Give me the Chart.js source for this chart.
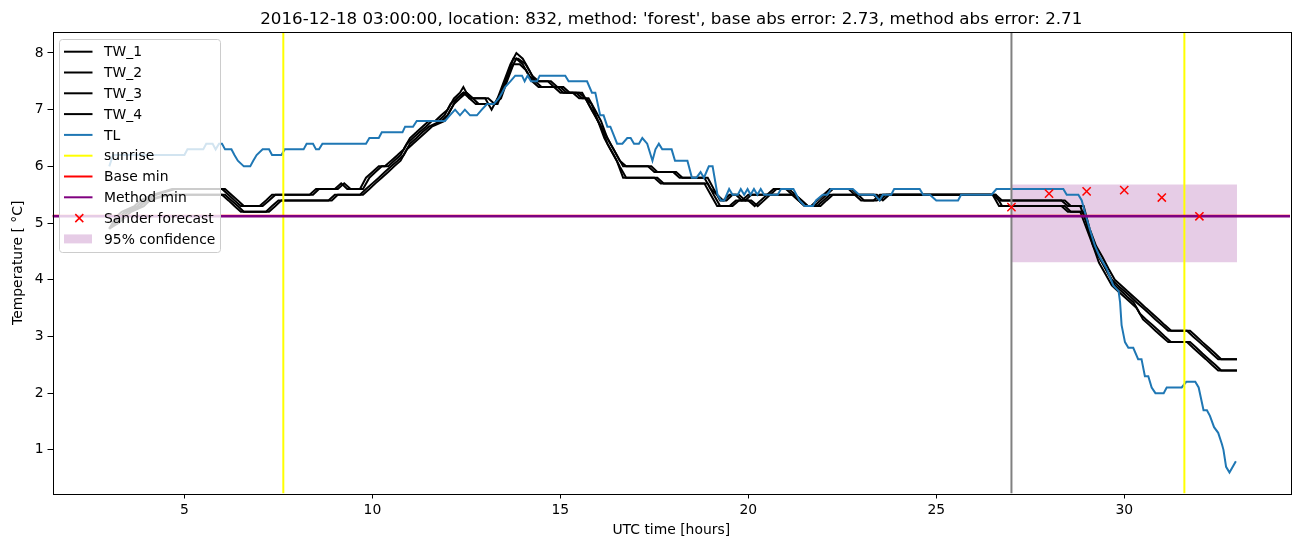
<!DOCTYPE html>
<html>
<head>
<meta charset="utf-8">
<script src="https://cdn.jsdelivr.net/npm/chart.js@4.4.0/dist/chart.umd.min.js"></script>
<style>
  html, body { margin: 0; padding: 0; background: #fff; }
</style>
</head>
<body>
<canvas id="tempChart" width="1302" height="547"></canvas>
<script>
// [hour, temperature] corner points
const tw1 = [[3.0,4.9],[3.17,5.1],[3.33,5.2],[3.67,5.3],[3.83,5.4],[4.17,5.5],[4.67,5.6],[6.0,5.6],[6.17,5.5],[6.33,5.4],[6.5,5.3],[7.0,5.3],[7.17,5.4],[7.33,5.5],[8.33,5.5],[8.5,5.6],[9.0,5.6],[9.17,5.7],[9.33,5.6],[9.67,5.6],[9.83,5.8],[10.0,5.9],[10.17,6.0],[10.33,6.0],[10.5,6.1],[10.67,6.2],[10.83,6.3],[11.0,6.5],[11.17,6.6],[11.33,6.7],[11.5,6.8],[11.67,6.8],[11.83,6.9],[12.0,7.0],[12.17,7.2],[12.33,7.3],[12.42,7.4],[12.5,7.3],[12.67,7.2],[13.0,7.2],[13.17,7.0],[13.33,7.2],[13.5,7.5],[13.67,7.8],[13.83,8.0],[14.0,7.9],[14.17,7.7],[14.33,7.5],[14.67,7.5],[14.83,7.4],[15.0,7.4],[15.17,7.3],[15.33,7.3],[15.5,7.2],[15.67,7.2],[15.83,7.1],[16.0,6.8],[16.17,6.6],[16.33,6.4],[16.5,6.2],[16.67,6.0],[17.33,6.0],[17.5,5.9],[18.0,5.9],[18.17,5.8],[18.83,5.8],[19.0,5.6],[19.17,5.5],[19.33,5.4],[19.5,5.5],[19.67,5.5],[19.83,5.4],[20.0,5.5],[20.5,5.5],[20.67,5.6],[21.0,5.6],[21.17,5.5],[21.33,5.4],[21.5,5.3],[21.67,5.3],[21.83,5.4],[22.0,5.5],[22.17,5.6],[22.67,5.6],[22.83,5.5],[23.33,5.5],[23.5,5.4],[23.67,5.5],[26.5,5.5],[26.67,5.4],[28.33,5.4],[28.5,5.3],[28.83,5.3],[29.0,5.0],[29.17,4.6],[29.33,4.4],[29.5,4.2],[29.67,4.0],[29.83,3.9],[30.0,3.8],[30.17,3.7],[30.33,3.6],[30.5,3.5],[30.67,3.4],[30.83,3.3],[31.0,3.2],[31.17,3.1],[31.67,3.1],[31.83,3.0],[32.0,2.9],[32.17,2.8],[32.33,2.7],[32.5,2.6],[33.0,2.6]];
const tw2 = [[3.0,4.9],[3.25,5.1],[3.42,5.2],[3.75,5.3],[3.92,5.4],[4.25,5.5],[4.75,5.6],[6.08,5.6],[6.25,5.5],[6.42,5.4],[6.58,5.3],[7.08,5.3],[7.25,5.4],[7.42,5.5],[8.42,5.5],[8.58,5.6],[9.08,5.6],[9.25,5.7],[9.42,5.6],[9.75,5.6],[9.92,5.8],[10.08,5.9],[10.25,6.0],[10.42,6.0],[10.58,6.1],[10.75,6.2],[10.92,6.4],[11.08,6.5],[11.25,6.6],[11.42,6.7],[11.58,6.8],[11.75,6.8],[11.92,6.9],[12.08,7.1],[12.25,7.2],[12.42,7.3],[12.5,7.3],[12.58,7.2],[12.75,7.2],[13.08,7.2],[13.25,7.1],[13.42,7.3],[13.58,7.6],[13.75,7.9],[13.88,7.9],[14.08,7.8],[14.25,7.6],[14.42,7.5],[14.75,7.5],[14.92,7.4],[15.08,7.4],[15.25,7.3],[15.42,7.3],[15.58,7.2],[15.75,7.2],[15.92,7.0],[16.08,6.8],[16.25,6.5],[16.42,6.3],[16.58,6.1],[16.75,6.0],[17.42,6.0],[17.58,5.9],[18.08,5.9],[18.25,5.8],[18.92,5.8],[19.08,5.6],[19.25,5.4],[19.42,5.4],[19.58,5.5],[19.75,5.5],[19.92,5.4],[20.08,5.5],[20.58,5.5],[20.75,5.6],[21.08,5.6],[21.25,5.5],[21.42,5.4],[21.58,5.3],[21.75,5.3],[21.92,5.4],[22.08,5.5],[22.25,5.6],[22.75,5.6],[22.92,5.5],[23.42,5.5],[23.58,5.4],[23.75,5.5],[26.58,5.5],[26.75,5.4],[28.42,5.4],[28.58,5.3],[28.92,5.3],[29.08,4.9],[29.25,4.6],[29.42,4.4],[29.58,4.2],[29.75,4.0],[29.92,3.9],[30.08,3.8],[30.25,3.7],[30.42,3.6],[30.58,3.5],[30.75,3.4],[30.92,3.3],[31.08,3.2],[31.25,3.1],[31.75,3.1],[31.92,3.0],[32.08,2.9],[32.25,2.8],[32.42,2.7],[32.58,2.6],[33.0,2.6]];
const tw3 = [[3.0,4.9],[3.17,5.0],[3.5,5.2],[3.83,5.3],[4.0,5.4],[4.5,5.5],[6.0,5.5],[6.17,5.4],[6.33,5.3],[6.5,5.2],[7.17,5.2],[7.33,5.3],[7.5,5.4],[8.83,5.4],[9.0,5.5],[9.67,5.5],[9.83,5.6],[10.0,5.7],[10.17,5.8],[10.33,5.9],[10.5,6.0],[10.67,6.1],[10.83,6.2],[11.0,6.4],[11.17,6.5],[11.33,6.6],[11.5,6.7],[11.83,6.8],[12.0,6.9],[12.17,7.1],[12.33,7.2],[12.5,7.3],[12.67,7.2],[12.83,7.1],[13.17,7.1],[13.33,7.1],[13.5,7.4],[13.67,7.7],[13.83,7.9],[14.0,7.8],[14.17,7.6],[14.33,7.5],[14.5,7.4],[14.83,7.4],[15.0,7.3],[15.5,7.3],[15.67,7.2],[15.83,7.0],[16.0,6.8],[16.17,6.5],[16.33,6.3],[16.5,6.1],[16.67,5.8],[17.5,5.8],[17.67,5.7],[18.83,5.7],[19.0,5.5],[19.17,5.3],[19.5,5.3],[19.67,5.4],[20.0,5.4],[20.17,5.3],[20.33,5.4],[20.5,5.5],[21.17,5.5],[21.33,5.4],[21.5,5.3],[21.83,5.3],[22.0,5.4],[22.17,5.5],[22.83,5.5],[23.0,5.4],[23.33,5.4],[23.5,5.5],[26.5,5.5],[26.67,5.3],[28.33,5.3],[28.5,5.2],[28.83,5.2],[29.0,4.9],[29.17,4.6],[29.33,4.3],[29.5,4.1],[29.67,3.9],[29.83,3.8],[30.0,3.7],[30.17,3.6],[30.33,3.5],[30.5,3.3],[30.67,3.2],[30.83,3.1],[31.0,3.0],[31.17,2.9],[31.67,2.9],[31.83,2.8],[32.0,2.7],[32.17,2.6],[32.33,2.5],[32.5,2.4],[33.0,2.4]];
const tw4 = [[3.0,4.9],[3.25,5.0],[3.58,5.2],[3.92,5.3],[4.08,5.4],[4.58,5.5],[6.08,5.5],[6.25,5.4],[6.42,5.3],[6.58,5.2],[7.25,5.2],[7.42,5.3],[7.58,5.4],[8.92,5.4],[9.08,5.5],[9.75,5.5],[9.92,5.6],[10.08,5.7],[10.25,5.8],[10.42,5.9],[10.58,6.0],[10.75,6.1],[10.92,6.3],[11.08,6.4],[11.25,6.5],[11.42,6.6],[11.58,6.7],[11.92,6.8],[12.08,7.0],[12.25,7.2],[12.42,7.3],[12.58,7.2],[12.75,7.1],[13.25,7.1],[13.42,7.2],[13.58,7.5],[13.75,7.8],[13.92,7.8],[14.08,7.7],[14.25,7.5],[14.42,7.4],[14.92,7.4],[15.08,7.3],[15.58,7.3],[15.75,7.1],[15.92,6.9],[16.08,6.7],[16.25,6.4],[16.42,6.2],[16.58,6.0],[16.75,5.8],[17.58,5.8],[17.75,5.7],[18.92,5.7],[19.08,5.5],[19.25,5.3],[19.58,5.3],[19.75,5.4],[20.08,5.4],[20.25,5.3],[20.42,5.4],[20.58,5.5],[21.25,5.5],[21.42,5.4],[21.58,5.3],[21.92,5.3],[22.08,5.4],[22.25,5.5],[22.92,5.5],[23.08,5.4],[23.42,5.4],[23.58,5.5],[26.58,5.5],[26.75,5.3],[28.42,5.3],[28.58,5.2],[28.92,5.2],[29.08,4.8],[29.25,4.5],[29.42,4.3],[29.58,4.1],[29.75,3.9],[29.92,3.8],[30.08,3.7],[30.25,3.6],[30.42,3.4],[30.58,3.3],[30.75,3.2],[30.92,3.1],[31.08,3.0],[31.25,2.9],[31.75,2.9],[31.92,2.8],[32.08,2.7],[32.25,2.6],[32.42,2.5],[32.58,2.4],[33.0,2.4]];
const tl = [[3.0,6.0],[3.1,6.2],[5.0,6.2],[5.08,6.3],[5.5,6.3],[5.58,6.4],[5.75,6.4],[5.83,6.3],[5.92,6.4],[6.0,6.4],[6.08,6.3],[6.25,6.3],[6.33,6.2],[6.42,6.1],[6.58,6.0],[6.75,6.0],[6.83,6.1],[6.92,6.2],[7.08,6.3],[7.25,6.3],[7.33,6.2],[7.58,6.2],[7.67,6.3],[8.17,6.3],[8.25,6.4],[8.42,6.4],[8.5,6.3],[8.58,6.3],[8.67,6.4],[9.83,6.4],[9.92,6.5],[10.17,6.5],[10.25,6.6],[10.8,6.6],[10.87,6.7],[11.08,6.7],[11.18,6.8],[11.93,6.8],[12.06,6.9],[12.2,7.0],[12.33,6.9],[12.46,7.0],[12.6,6.9],[12.78,6.9],[12.91,7.0],[13.05,7.1],[13.23,7.1],[13.36,7.2],[13.45,7.3],[13.53,7.4],[13.67,7.5],[13.8,7.6],[13.98,7.6],[14.05,7.5],[14.13,7.6],[14.22,7.5],[14.38,7.5],[14.45,7.6],[15.13,7.6],[15.22,7.5],[15.71,7.5],[15.84,7.3],[15.93,7.3],[16.06,6.9],[16.15,6.9],[16.25,6.7],[16.33,6.7],[16.42,6.55],[16.51,6.4],[16.65,6.4],[16.78,6.5],[16.87,6.5],[16.96,6.4],[17.09,6.4],[17.18,6.5],[17.31,6.4],[17.45,6.1],[17.53,6.3],[17.62,6.4],[17.71,6.3],[17.85,6.3],[17.96,6.3],[18.05,6.1],[18.38,6.1],[18.5,5.8],[18.62,5.8],[18.73,5.9],[18.82,5.8],[18.95,6.0],[19.05,6.0],[19.18,5.5],[19.27,5.4],[19.36,5.4],[19.49,5.6],[19.58,5.5],[19.72,5.5],[19.8,5.6],[19.89,5.5],[19.98,5.6],[20.06,5.5],[20.15,5.6],[20.24,5.5],[20.33,5.6],[20.42,5.5],[20.78,5.5],[20.87,5.6],[21.2,5.6],[21.36,5.4],[21.5,5.3],[21.72,5.3],[21.8,5.4],[21.98,5.5],[22.1,5.5],[22.2,5.6],[22.78,5.6],[22.95,5.5],[23.36,5.5],[23.49,5.4],[23.58,5.5],[23.8,5.5],[23.88,5.6],[24.56,5.6],[24.65,5.5],[24.83,5.5],[25.0,5.4],[25.58,5.4],[25.66,5.5],[26.47,5.5],[26.6,5.6],[28.38,5.6],[28.47,5.5],[28.78,5.5],[28.87,5.4],[28.95,5.2],[29.08,4.9],[29.22,4.6],[29.35,4.4],[29.53,4.2],[29.71,3.9],[29.85,3.8],[29.89,3.6],[29.93,3.2],[30.02,2.9],[30.11,2.8],[30.24,2.8],[30.37,2.6],[30.46,2.6],[30.55,2.3],[30.64,2.3],[30.73,2.1],[30.83,2.0],[31.05,2.0],[31.13,2.1],[31.53,2.1],[31.65,2.2],[31.89,2.2],[31.98,2.1],[32.11,1.7],[32.2,1.7],[32.28,1.6],[32.39,1.4],[32.5,1.3],[32.6,1.1],[32.64,1.0],[32.71,0.7],[32.8,0.6],[32.97,0.8]];

const sunriseHours = [7.63, 31.6];
const nowHour = 27.0;
const baseMin = 5.13;
const methodMin = 5.12;
const sanderHours = [27, 28, 29, 30, 31, 32];
const sanderTemp = [5.28, 5.52, 5.56, 5.58, 5.45, 5.12];
const confHours = [27, 33];
const confLow = 4.31;
const confHigh = 5.68;

const xLimits = [1.49, 34.41];
const yLimits = [0.23, 8.37];
const xTicks = [5, 10, 15, 20, 25, 30];
const yTicks = [1, 2, 3, 4, 5, 6, 7, 8];

const legendNames = ['TW_1', 'TW_2', 'TW_3', 'TW_4', 'TL', 'sunrise', 'Base min', 'Method min', 'Sander forecast', '95% confidence'];
const titleText = "2016-12-18 03:00:00, location: 832, method: 'forest', base abs error: 2.73, method abs error: 2.71";

const FONT = 'DejaVu Sans';
Chart.defaults.font.family = FONT;
Chart.defaults.color = '#000';

const toXY = pts => pts.map(p => ({x: p[0], y: p[1]}));

function lineSet(label, pts, color, order, width) {
    return {
        label: label,
        data: toXY(pts),
        borderColor: color,
        backgroundColor: color,
        borderWidth: width || 2,
        pointRadius: 0,
        showLine: true,
        fill: false,
        tension: 0,
        order: order
    };
}

const datasets = [
    // filled band sits below everything
    {
        label: '95% confidence',
        data: confHours.map(h => ({x: h, y: confHigh})),
        borderWidth: 0,
        pointRadius: 0,
        showLine: true,
        backgroundColor: 'rgba(128, 0, 128, 0.2)',
        fill: {value: confLow},
        order: 20
    },
    lineSet('TW_1', tw1, '#000000', 15),
    lineSet('TW_2', tw2, '#000000', 14),
    lineSet('TW_3', tw3, '#000000', 13),
    lineSet('TW_4', tw4, '#000000', 12),
    lineSet('TL', tl, '#1f77b4', 11),
    lineSet('sunrise', [[sunriseHours[0], yLimits[0]], [sunriseHours[0], yLimits[1]]], '#ffff00', 10),
    lineSet('sunrise2', [[sunriseHours[1], yLimits[0]], [sunriseHours[1], yLimits[1]]], '#ffff00', 9),
    lineSet('now', [[nowHour, yLimits[0]], [nowHour, yLimits[1]]], '#808080', 8),
    lineSet('Base min', [[xLimits[0], baseMin], [xLimits[1], baseMin]], '#ff0000', 7),
    lineSet('Method min', [[xLimits[0], methodMin], [xLimits[1], methodMin]], '#800080', 6, 2.4),
    {
        label: 'Sander forecast',
        data: sanderHours.map((h, i) => ({x: h, y: sanderTemp[i]})),
        showLine: false,
        pointStyle: 'crossRot',
        pointRadius: 5.8,
        borderColor: '#ff0000',
        backgroundColor: '#ff0000',
        borderWidth: 1.5,
        order: 1
    }
];

// frame, titles and the matplotlib-style legend
const decorations = {
    id: 'decorations',
    afterDraw(chart) {
        const ctx = chart.ctx;
        const a = chart.chartArea;
        ctx.save();
        ctx.strokeStyle = '#000';
        ctx.lineWidth = 1;
        ctx.strokeRect(Math.round(a.left) + 0.5, Math.round(a.top) + 0.5,
            Math.round(a.right - a.left), Math.round(a.bottom - a.top));

        ctx.fillStyle = '#000';
        ctx.textAlign = 'center';
        ctx.textBaseline = 'alphabetic';
        ctx.font = '16.7px "' + FONT + '"';
        ctx.fillText(titleText, (a.left + a.right) / 2, 24);

        ctx.font = '13.9px "' + FONT + '"';
        ctx.textBaseline = 'middle';
        ctx.fillText('UTC time [hours]', (a.left + a.right) / 2, 530);
        ctx.save();
        ctx.translate(18, (a.top + a.bottom) / 2);
        ctx.rotate(-Math.PI / 2);
        ctx.fillText('Temperature [ \u00b0C]', 0, 0);
        ctx.restore();

        // legend box
        const bx = 59.5, by = 39.5, bw = 161, bh = 213, r = 3;
        ctx.beginPath();
        ctx.moveTo(bx + r, by);
        ctx.arcTo(bx + bw, by, bx + bw, by + bh, r);
        ctx.arcTo(bx + bw, by + bh, bx, by + bh, r);
        ctx.arcTo(bx, by + bh, bx, by, r);
        ctx.arcTo(bx, by, bx + bw, by, r);
        ctx.closePath();
        ctx.fillStyle = 'rgba(255, 255, 255, 0.8)';
        ctx.fill();
        ctx.strokeStyle = '#cccccc';
        ctx.stroke();

        const colors = ['#000', '#000', '#000', '#000', '#1f77b4', '#ffff00', '#ff0000', '#800080', '#ff0000', 'rgba(128, 0, 128, 0.2)'];
        ctx.textAlign = 'left';
        legendNames.forEach((name, i) => {
            const y = 51.7 + i * 20.8;
            if (i === 8) {
                ctx.strokeStyle = colors[i];
                ctx.lineWidth = 1.5;
                ctx.beginPath();
                ctx.moveTo(75.3, y - 4); ctx.lineTo(83.3, y + 4);
                ctx.moveTo(83.3, y - 4); ctx.lineTo(75.3, y + 4);
                ctx.stroke();
            } else if (i === 9) {
                ctx.fillStyle = colors[i];
                ctx.fillRect(64, y - 4.5, 28, 9);
            } else {
                ctx.strokeStyle = colors[i];
                ctx.lineWidth = 2;
                ctx.beginPath();
                ctx.moveTo(64, y); ctx.lineTo(92.5, y);
                ctx.stroke();
            }
            ctx.fillStyle = '#000';
            ctx.fillText(name, 104, y + 1);
        });
        ctx.restore();
    }
};

new Chart(document.getElementById('tempChart'), {
    type: 'scatter',
    data: {datasets: datasets},
    options: {
        responsive: false,
        animation: false,
        layout: {padding: {top: 32, right: 12, left: 0, bottom: 0}},
        plugins: {
            legend: {display: false},
            tooltip: {enabled: false}
        },
        scales: {
            x: {
                type: 'linear',
                min: xLimits[0],
                max: xLimits[1],
                afterBuildTicks: s => { s.ticks = xTicks.map(v => ({value: v})); },
                afterFit: s => { s.height = 53.5; },
                grid: {drawOnChartArea: false, drawTicks: true, tickLength: 5, color: '#000', tickWidth: 1},
                border: {display: false},
                ticks: {font: {size: 13.9}, padding: 4, maxRotation: 0, color: '#000'}
            },
            y: {
                type: 'linear',
                min: yLimits[0],
                max: yLimits[1],
                afterBuildTicks: s => { s.ticks = yTicks.map(v => ({value: v})); },
                afterFit: s => { s.width = 52.5; },
                grid: {drawOnChartArea: false, drawTicks: true, tickLength: 5, color: '#000', tickWidth: 1},
                border: {display: false},
                ticks: {font: {size: 13.9}, padding: 4, color: '#000'}
            }
        }
    },
    plugins: [decorations]
});
</script>
</body>
</html>
